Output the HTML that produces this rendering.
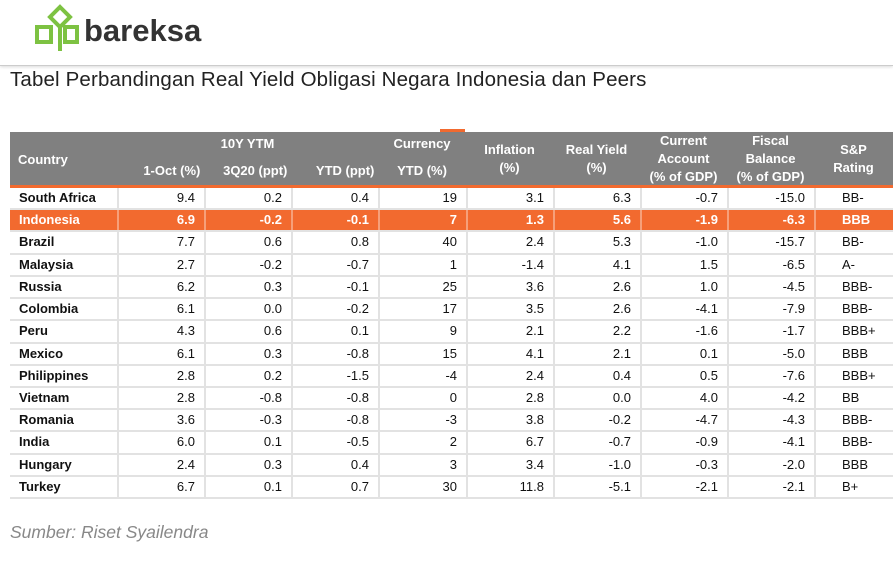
<!DOCTYPE html>
<html><head><meta charset="utf-8"><style>
body{margin:0;width:893px;height:567px;background:#fff;position:relative;overflow:hidden;font-family:"Liberation Sans",sans-serif}
.hdr{position:absolute;left:0;top:0;width:893px;height:65px;border-bottom:1px solid #ccc;box-shadow:0 1px 3px rgba(0,0,0,.15)}
.logo{position:absolute;left:84px;top:13px;font-size:31px;font-weight:bold;color:#333;letter-spacing:0px}
.title{position:absolute;left:10px;top:68px;font-size:20.5px;color:#222;letter-spacing:0.15px}
.src{position:absolute;left:10px;top:522px;font-size:17.5px;color:#888;font-style:italic}
.thead{position:absolute;left:10px;top:132px;width:883px;height:53px;background:#808080}
.oline{position:absolute;left:10px;top:185px;width:883px;height:3px;background:#f26a2f}
.h{position:absolute;color:#fff;font-weight:bold;font-size:13px;text-align:center;line-height:18px}
.row{position:absolute;left:10px;width:883px;border-bottom:2px solid #e2e2e2;box-sizing:border-box}
.c{position:absolute;top:0;font-size:13px;color:#111;box-sizing:border-box;border-left:2px solid #e2e2e2;height:100%}
.hl .c{color:#fff;font-weight:bold;border-color:#f6a07a}
.hl{background:#f26a2f}
</style></head><body>
<div class="hdr">
<svg style="position:absolute;left:34px;top:4px" width="46" height="48" viewBox="0 0 46 48">
<g fill="none" stroke="#7dc242" stroke-width="4">
<path d="M26 3 L36 13 L26 23 L16 13 Z"/>
<line x1="26" y1="23" x2="26" y2="47"/>
<rect x="3" y="23" width="14" height="15"/>
<rect x="31" y="23" width="12" height="15"/>
</g></svg>
<div class="logo">bareksa</div>
</div>
<div class="title">Tabel Perbandingan Real Yield Obligasi Negara Indonesia dan Peers</div>
<div style="position:absolute;left:440px;top:129px;width:25px;height:3px;background:#f26a2f"></div>
<div class="thead"></div>
<div class="oline"></div>
<div class="h" style="left:18px;top:151px">Country</div>
<div class="h" style="left:117px;width:261px;top:135px">10Y YTM</div>
<div class="h" style="left:117px;width:87px;top:162px;text-align:right;padding-right:0">1-Oct (%)&nbsp;</div>
<div class="h" style="left:204px;width:87px;top:162px;text-align:right">3Q20 (ppt)&nbsp;</div>
<div class="h" style="left:291px;width:87px;top:162px;text-align:right">YTD (ppt)&nbsp;</div>
<div class="h" style="left:378px;width:88px;top:135px">Currency</div>
<div class="h" style="left:378px;width:88px;top:162px">YTD (%)</div>
<div class="h" style="left:466px;width:87px;top:141px">Inflation<br>(%)</div>
<div class="h" style="left:553px;width:87px;top:141px">Real Yield<br>(%)</div>
<div class="h" style="left:640px;width:87px;top:132px">Current<br>Account<br>(% of GDP)</div>
<div class="h" style="left:727px;width:87px;top:132px">Fiscal<br>Balance<br>(% of GDP)</div>
<div class="h" style="left:814px;width:79px;top:141px">S&amp;P<br>Rating</div>
<div id="t"></div>
<div class="src">Sumber: Riset Syailendra</div>
<script>
var d=[["South Africa","9.4","0.2","0.4","19","3.1","6.3","-0.7","-15.0","BB-"],
["Indonesia","6.9","-0.2","-0.1","7","1.3","5.6","-1.9","-6.3","BBB"],
["Brazil","7.7","0.6","0.8","40","2.4","5.3","-1.0","-15.7","BB-"],
["Malaysia","2.7","-0.2","-0.7","1","-1.4","4.1","1.5","-6.5","A-"],
["Russia","6.2","0.3","-0.1","25","3.6","2.6","1.0","-4.5","BBB-"],
["Colombia","6.1","0.0","-0.2","17","3.5","2.6","-4.1","-7.9","BBB-"],
["Peru","4.3","0.6","0.1","9","2.1","2.2","-1.6","-1.7","BBB+"],
["Mexico","6.1","0.3","-0.8","15","4.1","2.1","0.1","-5.0","BBB"],
["Philippines","2.8","0.2","-1.5","-4","2.4","0.4","0.5","-7.6","BBB+"],
["Vietnam","2.8","-0.8","-0.8","0","2.8","0.0","4.0","-4.2","BB"],
["Romania","3.6","-0.3","-0.8","-3","3.8","-0.2","-4.7","-4.3","BBB-"],
["India","6.0","0.1","-0.5","2","6.7","-0.7","-0.9","-4.1","BBB-"],
["Hungary","2.4","0.3","0.4","3","3.4","-1.0","-0.3","-2.0","BBB"],
["Turkey","6.7","0.1","0.7","30","11.8","-5.1","-2.1","-2.1","B+"]];
var xs=[0,107,194,281,368,456,543,630,717,804,883],h="";
d.forEach(function(r,i){var top=188+i*22.22;
h+='<div class="row'+(i==1?' hl':'')+'" style="top:'+top+'px;height:22.22px">';
r.forEach(function(v,j){var w=xs[j+1]-xs[j];var st='left:'+xs[j]+'px;width:'+w+'px;line-height:20px;';
if(j==0)st+='border-left:none;padding-left:9px;font-weight:bold;';else if(j==9)st+='padding-left:26px;';else st+='text-align:right;padding-right:9px;';
h+='<div class="c" style="'+st+'">'+v+'</div>';});h+='</div>';});
document.getElementById('t').innerHTML=h;
</script>
</body></html>
